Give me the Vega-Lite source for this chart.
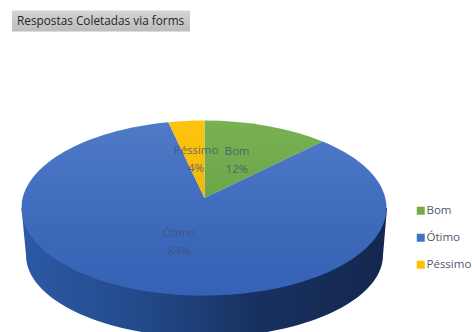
{
  "$schema": "https://vega.github.io/schema/vega-lite/v6.json",
  "width": 472,
  "height": 332,
  "padding": 0,
  "autosize": {"type": "none"},
  "background": "white",
  "config": {"view": {"stroke": null}},
  "title": {"text": "Respostas Coletadas via forms", "anchor": "start", "frame": "group", "orient": "top", "offset": -28, "dx": 17, "font": "Open Sans", "fontSize": 11.8, "fontWeight": "normal", "color": "#262626"},
  "data": {"values": [
    {"category": "Bom", "value": 12, "label": "Bom\n12%"},
    {"category": "Ótimo", "value": 84, "label": "Ótimo\n84%"},
    {"category": "Péssimo", "value": 4, "label": "Péssimo\n4%"}
  ]},
  "layer": [
    {
      "mark": {"type": "square", "size": 0, "opacity": 1},
      "encoding": {
        "color": {"field": "category", "type": "nominal",
          "scale": {"domain": ["Bom", "Ótimo", "Péssimo"], "range": ["#70ad47", "#4472c4", "#ffc000"]},
          "legend": {"title": null, "orient": "none", "legendX": 415, "legendY": 205, "symbolType": "square", "symbolSize": 64, "symbolOpacity": 1, "symbolStrokeWidth": 0, "labelFont": "Open Sans", "labelFontSize": 11.5, "labelColor": "#50586a", "labelOffset": 0, "rowPadding": 14, "labelLimit": 100}}
      }
    },
    {
      "transform": [{"filter": "datum.category === 'Bom'"}],
      "mark": {"type": "point", "filled": true, "opacity": 1, "size": 4,
        "shape": "M-224,-155.5 L-46,-155.5 L-46,-134.5 L-224,-134.5 Z",
        "fill": {"gradient": "linear", "x1": 0, "y1": 0, "x2": 0, "y2": 1, "stops": [{"offset": 0, "color": "#d4d4d4"}, {"offset": 1, "color": "#bcbcbc"}]}},
      "encoding": {}
    },
    {
      "transform": [{"filter": "datum.category === 'Ótimo'"}],
      "mark": {"type": "point", "filled": true, "opacity": 1, "size": 4,
        "shape": "M-214.5,42 L-210,89 A178,82 0 0 0 147,89 L151,42 Z",
        "fill": {"gradient": "linear", "x1": 0, "y1": 0, "x2": 1, "y2": 0, "stops": [{"offset": 0, "color": "#2c5aa6"}, {"offset": 0.35, "color": "#234888"}, {"offset": 0.65, "color": "#17315f"}, {"offset": 1, "color": "#14274e"}]}},
      "encoding": {}
    },
    {
      "mark": {"type": "point", "filled": true, "opacity": 1, "size": 4},
      "encoding": {
        "color": {"field": "category", "type": "nominal", "legend": null},
        "shape": {"field": "label", "type": "nominal", "legend": null,
          "scale": {"domain": ["Bom\n12%", "Ótimo\n84%", "Péssimo\n4%"], "range": [
            "M-31.5,32 L-31.5,-45.5 A182.5,87.5 0 0 1 86.7,-24.5 Z",
            "M-31.5,32 L86.7,-24.5 A182.5,87.5 0 1 1 -67.7,-43.8 Z",
            "M-31.5,32 L-67.7,-43.8 A182.5,87.5 0 0 1 -31.5,-45.5 Z"
          ]}}
      }
    },
    {
      "transform": [{"filter": "datum.category === 'Ótimo'"}],
      "mark": {"type": "point", "filled": true, "opacity": 1, "size": 4,
        "shape": "M-214,42 A182.5,87.5 0 1 1 151,42 A182.5,87.5 0 1 1 -214,42 Z",
        "fill": {"gradient": "linear", "x1": 0, "y1": 0, "x2": 0, "y2": 1, "stops": [{"offset": 0, "color": "rgba(255,255,255,0.06)"}, {"offset": 0.5, "color": "rgba(0,20,90,0.06)"}, {"offset": 1, "color": "rgba(0,40,140,0.22)"}]}},
      "encoding": {}
    },
    {
      "mark": {"type": "text", "font": "Open Sans", "fontSize": 11.5, "lineBreak": "\n", "lineHeight": 18, "baseline": "middle", "align": "center", "fill": "#3f5378", "opacity": 0.8},
      "encoding": {
        "text": {"field": "label", "type": "nominal"},
        "x": {"field": "value", "type": "quantitative", "axis": null, "scale": {"domain": [4, 12, 84], "range": [196, 237, 179], "nice": false, "zero": false}},
        "y": {"field": "value", "type": "quantitative", "axis": null, "scale": {"domain": [4, 12, 84], "range": [151, 152, 234], "nice": false, "zero": false}}
      }
    }
  ]
}
